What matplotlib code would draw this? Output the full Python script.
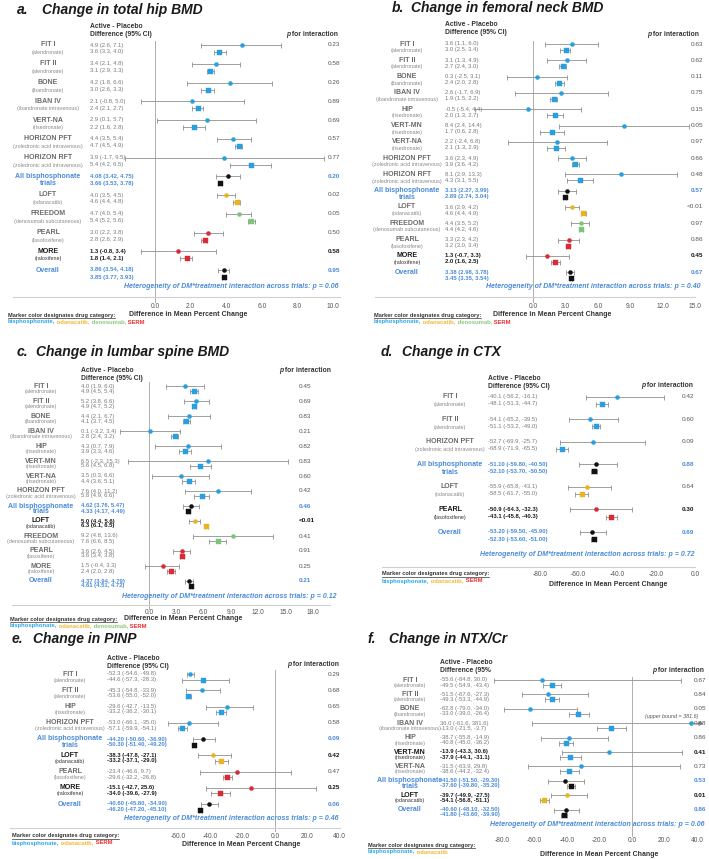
import matplotlib
matplotlib.use("Agg")
import matplotlib.pyplot as plt
from matplotlib.lines import Line2D
from matplotlib.transforms import blended_transform_factory

plt.rcParams['font.family'] = ['Liberation Sans', 'DejaVu Sans']

# ---------------- data ----------------
# a. total hip BMD
A_TRIALS = ["FIT I", "FIT II", "BONE", "IBAN IV", "VERT-NA", "HORIZON PFT", "HORIZON RFT",
            "All bisphosphonate trials", "LOFT", "FREEDOM", "PEARL", "MORE", "Overall"]
A_DRUGS = ["alendronate", "alendronate", "ibandronate", "ibandronate intravenous", "risedronate",
           "zoledronic acid intravenous", "zoledronic acid intravenous", "", "odanacatib",
           "denosumab subcutaneous", "lasofoxifene", "raloxifene", ""]
A_CATS = ["bis"] * 7 + ["pool", "oda", "den", "serm", "serm", "pool"]
A_DM = [(4.9, 2.6, 7.1), (3.4, 2.1, 4.8), (4.2, 1.8, 6.6), (2.1, -0.8, 5.0), (2.9, 0.1, 5.7),
        (4.4, 3.5, 5.4), (3.9, -1.7, 9.5), (4.08, 3.42, 4.75), (4.0, 3.5, 4.5), (4.7, 4.0, 5.4),
        (3.0, 2.2, 3.8), (1.3, -0.8, 3.4), (3.86, 3.54, 4.18)]
A_NODM = [(3.6, 3.3, 4.0), (3.1, 2.9, 3.3), (3.0, 2.6, 3.3), (2.4, 2.1, 2.7), (2.2, 1.6, 2.8),
          (4.7, 4.5, 4.9), (5.4, 4.2, 6.5), (3.66, 3.53, 3.78), (4.6, 4.4, 4.8), (5.4, 5.2, 5.6),
          (2.8, 2.6, 2.9), (1.8, 1.4, 2.1), (3.85, 3.77, 3.93)]
A_P = ["0.23", "0.58", "0.26", "0.89", "0.69", "0.57", "0.77", "0.20", "0.02", "0.05", "0.50",
       "0.58", "0.95"]
A_BOLD = ["MORE"]
A_HET = "0.06"
A_TICKS = [0, 2, 4, 6, 8, 10]

# b. femoral neck BMD
B_TRIALS = ["FIT I", "FIT II", "BONE", "IBAN IV", "HIP", "VERT-MN", "VERT-NA", "HORIZON PFT",
            "HORIZON RFT", "All bisphosphonate trials", "LOFT", "FREEDOM", "PEARL", "MORE", "Overall"]
B_DRUGS = ["alendronate", "alendronate", "ibandronate", "ibandronate intravenous", "risedronate",
           "risedronate", "risedronate", "zoledronic acid intravenous", "zoledronic acid intravenous",
           "", "odanacatib", "denosumab subcutaneous", "lasofoxifene", "raloxifene", ""]
B_CATS = ["bis"] * 9 + ["pool", "oda", "den", "serm", "serm", "pool"]
B_DM = [(3.6, 1.1, 6.0), (3.1, 1.3, 4.9), (0.3, -2.5, 3.1), (2.6, -1.7, 6.9), (-0.5, -5.4, 4.4),
        (8.4, 2.4, 14.4), (2.2, -2.4, 6.8), (3.6, 2.3, 4.9), (8.1, 2.9, 13.3), (3.13, 2.27, 3.99),
        (3.6, 2.9, 4.2), (4.4, 3.5, 5.2), (3.3, 2.3, 4.2), (1.3, -0.7, 3.3), (3.38, 2.98, 3.78)]
B_NODM = [(3.0, 2.5, 3.4), (2.7, 2.4, 3.0), (2.4, 2.0, 2.8), (1.9, 1.5, 2.2), (2.0, 1.3, 2.7),
          (1.7, 0.6, 2.8), (2.1, 1.3, 2.9), (3.9, 3.6, 4.2), (4.3, 3.1, 5.5), (2.89, 2.74, 3.04),
          (4.6, 4.4, 4.9), (4.4, 4.2, 4.6), (3.2, 3.0, 3.4), (2.0, 1.6, 2.5), (3.45, 3.35, 3.54)]
B_P = ["0.63", "0.62", "0.11", "0.75", "0.15", "0.05", "0.97", "0.66", "0.48", "0.57", "<0.01",
       "0.97", "0.86", "0.45", "0.67"]
B_BOLD = ["MORE"]
B_HET = "0.40"
B_TICKS = [0, 3, 6, 9, 12, 15]

# c. lumbar spine BMD
C_TRIALS = ["FIT I", "FIT II", "BONE", "IBAN IV", "HIP", "VERT-MN", "VERT-NA", "HORIZON PFT",
            "All bisphosphonate trials", "LOFT", "FREEDOM", "PEARL", "MORE", "Overall"]
C_DRUGS = ["alendronate", "alendronate", "ibandronate", "ibandronate intravenous", "risedronate",
           "risedronate", "risedronate", "zoledronic acid intravenous", "", "odanacatib",
           "denosumab subcutaneous", "lasoxifene", "raloxifene", ""]
C_CATS = ["bis"] * 8 + ["pool", "oda", "den", "serm", "serm", "pool"]
C_DM = [(4.0, 1.9, 6.0), (5.2, 3.8, 6.6), (4.4, 2.1, 6.7), (0.1, -3.2, 3.4), (4.3, 0.7, 7.9),
        (6.5, -2.3, 15.3), (3.5, 0.3, 6.6), (7.6, 4.0, 11.2), (4.62, 3.76, 5.47), (5.0, 4.4, 5.6),
        (9.2, 4.8, 13.6), (3.6, 2.6, 4.5), (1.5, -0.4, 3.3), (4.37, 3.94, 4.79)]
C_NODM = [(4.9, 4.5, 5.4), (4.9, 4.7, 5.2), (4.1, 3.7, 4.5), (2.8, 2.4, 3.2), (3.9, 3.3, 4.6),
          (5.6, 4.5, 6.8), (4.4, 3.6, 5.1), (5.8, 4.9, 6.6), (4.33, 4.17, 4.49), (6.3, 6.1, 6.5),
          (7.6, 6.6, 8.5), (3.6, 3.4, 3.8), (2.4, 2.0, 2.8), (4.61, 4.51, 4.72)]
C_P = ["0.45", "0.69", "0.83", "0.21", "0.82", "0.83", "0.60", "0.42", "0.46", "<0.01", "0.41",
       "0.91", "0.25", "0.21"]
C_BOLD = ["LOFT"]
C_HET = "0.12"
C_TICKS = [0, 3, 6, 9, 12, 15, 18]

# d. CTX
D_TRIALS = ["FIT I", "FIT II", "HORIZON PFT", "All bisphosphonate trials", "LOFT", "PEARL", "Overall"]
D_DRUGS = ["alendronate", "alendronate", "zoledronic acid intravenous", "", "odanacatib",
           "lasofoxifene", ""]
D_CATS = ["bis", "bis", "bis", "pool", "oda", "serm", "pool"]
D_DM = [(-40.1, -56.2, -16.1), (-54.1, -65.2, -39.5), (-52.7, -69.9, -25.7), (-51.1, -59.8, -40.5),
        (-55.9, -65.8, -43.1), (-50.9, -64.3, -32.3), (-53.2, -59.5, -45.9)]
D_NODM = [(-48.1, -51.3, -44.7), (-51.1, -53.2, -49.0), (-68.9, -71.9, -65.5), (-52.1, -53.7, -50.5),
          (-58.5, -61.7, -55.0), (-43.1, -45.8, -40.3), (-52.3, -53.6, -51.0)]
D_P = ["0.42", "0.60", "0.09", "0.88", "0.64", "0.30", "0.69"]
D_BOLD = ["PEARL"]
D_HET = "0.72"
D_TICKS = [-80, -60, -40, -20, 0]

# e. PINP
E_TRIALS = ["FIT I", "FIT II", "HIP", "HORIZON PFT", "All bisphosphonate trials", "LOFT", "PEARL",
            "MORE", "Overall"]
E_DRUGS = ["alendronate", "alendronate", "risedronate", "zoledronic acid intravenous", "",
           "odanacatib", "lasofoxifene", "raloxifene", ""]
E_CATS = ["bis", "bis", "bis", "bis", "pool", "oda", "serm", "serm", "pool"]
E_DM = [(-52.3, -54.6, -49.8), (-45.3, -54.8, -33.9), (-29.6, -42.7, -13.5), (-53.0, -66.1, -35.0),
        (-44.2, -50.6, -36.9), (-38.3, -47.8, -27.1), (-23.4, -46.6, 9.7), (-15.1, -42.7, 25.6),
        (-40.6, -45.8, -34.9)]
E_NODM = [(-44.6, -57.3, -28.3), (-53.6, -55.0, -52.0), (-33.2, -36.2, -30.1), (-57.1, -59.9, -54.1),
          (-50.3, -51.4, -49.2), (-33.2, -37.1, -29.0), (-29.6, -32.2, -26.8), (-34.0, -39.6, -27.9),
          (-46.2, -47.2, -45.1)]
E_P = ["0.29", "0.68", "0.65", "0.58", "0.09", "0.42", "0.47", "0.25", "0.06"]
E_BOLD = ["LOFT", "MORE"]
E_HET = "0.46"
E_TICKS = [-60, -40, -20, 0, 20, 40]

# f. NTX/Cr
F_TRIALS = ["FIT I", "FIT II", "BONE", "IBAN IV", "HIP", "VERT-MN", "VERT-NA",
            "All bisphosphonate trials", "LOFT", "Overall"]
F_DRUGS = ["alendronate", "alendronate", "ibandronate", "ibandronate intravenous", "risedronate",
           "risedronate", "risedronate", "", "odanacatib", ""]
F_CATS = ["bis"] * 7 + ["pool", "oda", "pool"]
F_DM = [(-55.6, -84.8, 30.0), (-51.5, -67.6, -27.3), (-62.8, -79.0, -34.0), (36.0, -61.6, 381.6),
        (-38.7, -55.8, -14.9), (-13.9, -43.3, 30.6), (-31.5, -63.9, 29.8), (-41.5, -51.5, -29.3),
        (-39.7, -49.9, -27.5), (-40.6, -48.1, -32.5)]
F_NODM = [(-49.5, -54.9, -43.4), (-49.3, -53.3, -44.9), (-33.0, -39.0, -26.4), (-13.0, -21.5, -3.7),
          (-40.8, -45.0, -36.2), (-37.9, -44.1, -31.1), (-38.6, -44.2, -32.4), (-37.6, -39.8, -35.2),
          (-54.1, -56.8, -51.1), (-41.8, -43.6, -39.9)]
F_P = ["0.67", "0.84", "0.05", "0.48", "0.86", "0.41", "0.73", "0.53", "0.01", "0.86"]
F_BOLD = ["VERT-MN", "LOFT"]
F_HET = "0.06"
F_TICKS = [-80, -60, -40, -20, 0, 20, 40]

# ---------------- style ----------------
CAT_COL = {"bis": "#2a9fe0", "oda": "#e8b422", "den": "#7cc47c", "serm": "#d92a35", "pool": "#111111"}
LEG_COL = {"bisphosphonate": "#2aa6e8", "odanacatib": "#f2b731", "denosumab": "#8cc97a", "SERM": "#ea2f33"}
BLUE_TXT = "#4a8bd8"
GRAY = "#6a6a6a"
BAR = "#8f8f8f"

W, H = 709, 859
fig = plt.figure(figsize=(W / 100, H / 100), dpi=100)
fig.patch.set_facecolor("white")
renderer = fig.canvas.get_renderer()


def fx(px):
    return px / W


def fy(py):
    return 1 - py / H


def chain(x, y, parts, size, right=False):
    # place several differently styled strings one after the other
    texts = []
    cur = x
    for s, color, style in parts:
        t = fig.text(fx(cur), fy(y), s, fontsize=size, color=color, fontweight="bold",
                     fontstyle=style, va="center", ha="left")
        cur += t.get_window_extent(renderer).width
        texts.append(t)
    if right:
        shift = cur - x
        for t in texts:
            px, py = t.get_position()
            t.set_position((px - shift / W, py))
    return texts


def panel(letter, title, trials, drugs, cats, dm, nodm, pvals, bold, het, ticks, L, legend_cats,
          header2="Difference (95% CI)"):
    x0, x1, top, bot = L["box"]
    ax = fig.add_axes([fx(x0), fy(bot), (x1 - x0) / W, (bot - top) / H])
    z, s = L["zero"], L["scale"]
    ax.set_xlim((x0 - z) / s, (x1 - z) / s)
    first, step, off = L["rows"]
    ax.set_ylim((bot - first) / step, (top - first) / step)
    d2 = off / step
    tr = blended_transform_factory(fig.transFigure, ax.transData)
    ax.patch.set_alpha(0)
    for sp in ["top", "left", "right"]:
        ax.spines[sp].set_visible(False)
    ax.spines["bottom"].set_color("#d0d0d0")
    ax.spines["bottom"].set_linewidth(0.8)
    ax.spines["bottom"].set_visible(L.get("spine", True))
    ax.set_yticks([])
    ax.set_xticks(ticks)
    ax.set_xticklabels([f"{t:.1f}" for t in ticks])
    ax.tick_params(axis="x", length=0, pad=(L["tick_y"] - bot - 3.5) * 0.72, labelsize=4.8,
                   labelcolor="#555555")
    if L.get("zero_line", True):
        ax.axvline(0, ymin=-0.02, ymax=1, color="#444444", lw=0.6, ls=(0, (1.2, 1.2)),
                   clip_on=False, zorder=1)

    for i, name in enumerate(trials):
        cat = cats[i]
        pool = cat == "pool"
        hl = name in bold
        two = pool
        for j, (e, lo, hi) in enumerate((dm[i], nodm[i])):
            y = i + j * d2
            ax.errorbar([e], [y], xerr=[[e - lo], [hi - e]], fmt="none", ecolor=BAR,
                        elinewidth=0.6, capsize=1.8, capthick=0.6, zorder=2)
            ax.plot([e], [y], marker="o" if j == 0 else "s", ms=2.9 if j == 0 else 3.6,
                    color=CAT_COL[cat], mec=CAT_COL[cat], mew=0.3, zorder=3, ls="none")
            f = "{:.2f}" if two else "{:.1f}"
            txt = f"{f.format(e)} ({f.format(lo)}, {f.format(hi)})"
            col = BLUE_TXT if pool else ("#1a1a1a" if hl else "#7a7a7a")
            ax.text(fx(L["val_x"]), y, txt, transform=tr, fontsize=4.2, color=col,
                    fontweight="bold" if (pool or hl) else "normal", va="center", ha="left")
        if pool:
            parts = name.replace(" trials", "\ntrials").split("\n")
            for j, p in enumerate(parts):
                ax.text(fx(L["label_x"]), i + j * d2 * 1.1, p, transform=tr, fontsize=5.0,
                        color=BLUE_TXT, fontweight="bold", va="center", ha="center")
        else:
            ax.text(fx(L["label_x"]), i, name, transform=tr, fontsize=5.0,
                    color="#1a1a1a" if hl else GRAY, fontweight="bold", va="center", ha="center")
            ax.text(fx(L["label_x"]), i + d2 * 1.1, f"({drugs[i]})", transform=tr, fontsize=3.9,
                    color="#333333" if hl else "#8a8a8a", va="center", ha="center")
        pcol = BLUE_TXT if pool else ("#1a1a1a" if hl else "#555555")
        ax.text(fx(L["p_x"]), i, pvals[i], transform=tr, fontsize=4.6, color=pcol,
                fontweight="bold" if (hl or pool) else "normal", va="center", ha=L["p_ha"])

    # titles and headers
    tx, tx2, ty = L["title"]
    fig.text(fx(tx), fy(ty), letter + ".", fontsize=10, fontweight="bold", fontstyle="italic",
             color="#1a1a1a", va="center")
    fig.text(fx(tx2), fy(ty), title, fontsize=10, fontweight="bold", fontstyle="italic",
             color="#1a1a1a", va="center")
    hy = L["head_y"]
    fig.text(fx(L["val_x"]), fy(hy), "Active - Placebo", fontsize=4.9, fontweight="bold",
             color="#333333", va="center")
    fig.text(fx(L["val_x"]), fy(hy + 8), header2, fontsize=4.9, fontweight="bold",
             color="#333333", va="center")
    phx, phy = L["phead"]
    chain(phx, phy, [("p", "#333333", "italic"), (" for interaction", "#333333", "normal")], 4.9,
          right=True)
    hx, hy2 = L["het"]
    fig.text(fx(hx), fy(hy2), f"Heterogeneity of DM*treatment interaction across trials: p = {het}",
             fontsize=5.0, fontweight="bold", fontstyle="italic", color=BLUE_TXT, va="center",
             ha="right")
    xlx, xly = L["xlab"]
    fig.text(fx(xlx), fy(xly), "Difference in Mean Percent Change", fontsize=5.0,
             fontweight="bold", color="#333333", va="center", ha="center")
    lx, ly = L["legend"]
    t = fig.text(fx(lx), fy(ly), "Marker color designates drug category:", fontsize=4.1,
                 fontweight="bold", color="#333333", va="center")
    bb = t.get_window_extent(renderer)
    fig.add_artist(Line2D([fx(bb.x0), fx(bb.x1)], [(bb.y0 - 0.3) / H] * 2, color="#333333",
                          lw=0.5, transform=fig.transFigure))
    parts = []
    for k, c in enumerate(legend_cats):
        label = c + ("," if k < len(legend_cats) - 1 else "")
        parts.append(((" " if k else "") + label, LEG_COL[c], "normal"))
    chain(lx, ly + 7, parts, 4.2)
    return ax


LAYOUT = {
    "a": dict(box=(13, 340, 40, 297), zero=155, scale=17.8, rows=(45, 18.75, 7), label_x=48,
              val_x=90, p_x=328, p_ha="left", head_y=26, phead=(338, 34), title=(17, 42, 10),
              het=(338, 286), xlab=(188, 315), legend=(8, 315), tick_y=307),
    "b": dict(box=(375, 695, 40, 297), zero=535, scale=10.87, rows=(44, 16.3, 6), label_x=407,
              val_x=445, p_x=703, p_ha="right", head_y=25, phead=(699, 35), title=(392, 411, 8),
              het=(700, 287), xlab=(552, 315), legend=(374, 315), tick_y=306),
    "c": dict(box=(12, 330, 382, 605), zero=149, scale=9.11, rows=(386, 15.0, 5), label_x=41,
              val_x=81, p_x=299, p_ha="left", head_y=370, phead=(331, 371), title=(17, 36, 352),
              het=(336, 596), xlab=(183, 619), legend=(10, 619), tick_y=612),
    "d": dict(box=(382, 695, 392, 567), zero=695, scale=1.9375, rows=(397, 22.5, 7), label_x=450,
              val_x=488, p_x=694, p_ha="right", head_y=379, phead=(693, 386), title=(381, 402, 352),
              het=(694, 555), xlab=(608, 585), legend=(382, 574), tick_y=575, zero_line=False),
    "e": dict(box=(10, 340, 670, 828), zero=275, scale=1.62, rows=(674, 16.25, 5.5), label_x=70,
              val_x=107, p_x=328, p_ha="left", head_y=658, phead=(339, 664), title=(12, 33, 639),
              het=(339, 819), xlab=(241, 845), legend=(12, 836), tick_y=836),
    "f": dict(box=(490, 700, 676, 833), zero=632, scale=1.625, rows=(680, 14.4, 5), label_x=410,
              val_x=440, p_x=706, p_ha="right", head_y=662, phead=(704, 670), title=(368, 389, 639),
              het=(704, 824), xlab=(599, 855), legend=(368, 845), tick_y=841, spine=False),
}

panel("a", "Change in total hip BMD", A_TRIALS, A_DRUGS, A_CATS, A_DM, A_NODM, A_P, A_BOLD, A_HET,
      A_TICKS, LAYOUT["a"], ["bisphosphonate", "odanacatib", "denosumab", "SERM"])
panel("b", "Change in femoral neck BMD", B_TRIALS, B_DRUGS, B_CATS, B_DM, B_NODM, B_P, B_BOLD,
      B_HET, B_TICKS, LAYOUT["b"], ["bisphosphonate", "odanacatib", "denosumab", "SERM"])
panel("c", "Change in lumbar spine BMD", C_TRIALS, C_DRUGS, C_CATS, C_DM, C_NODM, C_P, C_BOLD,
      C_HET, C_TICKS, LAYOUT["c"], ["bisphosphonate", "odanacatib", "denosumab", "SERM"])
panel("d", "Change in CTX", D_TRIALS, D_DRUGS, D_CATS, D_DM, D_NODM, D_P, D_BOLD, D_HET, D_TICKS,
      LAYOUT["d"], ["bisphosphonate", "odanacatib", "SERM"])
panel("e", "Change in PINP", E_TRIALS, E_DRUGS, E_CATS, E_DM, E_NODM, E_P, E_BOLD, E_HET, E_TICKS,
      LAYOUT["e"], ["bisphosphonate", "odanacatib", "SERM"])
axf = panel("f", "Change in NTX/Cr", F_TRIALS, F_DRUGS, F_CATS, F_DM, F_NODM, F_P, F_BOLD, F_HET,
            F_TICKS, LAYOUT["f"], ["bisphosphonate", "odanacatib"], header2="Difference (95%")

# IBAN IV upper bound runs off the scale in panel f
iban = F_TRIALS.index("IBAN IV")
axf.plot([axf.get_xlim()[1]], [iban], marker=">", ms=2.5, color=BAR, clip_on=False)
axf.text(0.74, iban - 0.45, f"(upper bound = {F_DM[iban][2]})", transform=blended_transform_factory(
    axf.transAxes, axf.transData), fontsize=3.9, fontstyle="italic", color="#555555", va="center")

fig.savefig("out.png", dpi=100, facecolor="white")
